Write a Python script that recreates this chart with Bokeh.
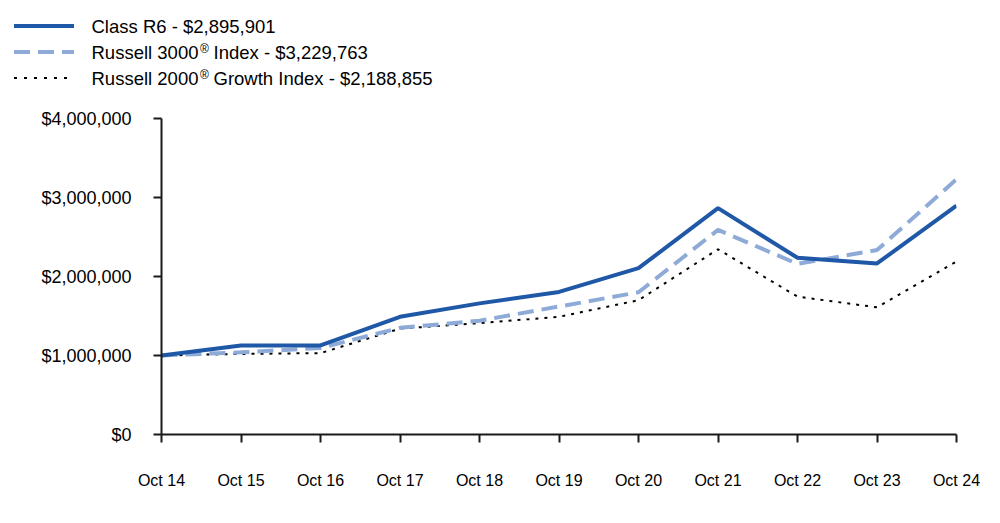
from bokeh.plotting import figure
from bokeh.layouts import column
from bokeh.models import Range1d, FixedTicker, NumeralTickFormatter
from bokeh.core.properties import value
from bokeh.embed import file_html
from bokeh.resources import INLINE

years = ["Oct 14", "Oct 15", "Oct 16", "Oct 17", "Oct 18", "Oct 19",
         "Oct 20", "Oct 21", "Oct 22", "Oct 23", "Oct 24"]
class_r6 = [1000000, 1127000, 1127000, 1490000, 1660000, 1805000,
            2105000, 2865000, 2237000, 2165000, 2895901]
russell_3000 = [1000000, 1040000, 1095000, 1350000, 1440000, 1620000,
                1800000, 2590000, 2160000, 2335000, 3229763]
russell_2000g = [1000000, 1020000, 1030000, 1340000, 1410000, 1490000,
                 1700000, 2345000, 1745000, 1610000, 2188855]
y_ticks = [0, 1000000, 2000000, 3000000, 4000000]

FONT = "Liberation Sans"
C_SOLID = "#1f58a6"
C_DASH = "#8eabd8"
C_DOT = "#000000"

FRAME_L, FRAME_R = 161, 956
TOTAL_W = 990

# ---------- legend figure ----------
LEG_H = 108
leg = figure(width=TOTAL_W, height=LEG_H, x_range=Range1d(0, TOTAL_W),
             y_range=Range1d(LEG_H, 0), output_backend="svg", toolbar_location=None,
             min_border=0)
if "frame_align" in leg.properties():
    leg.frame_align = False
leg.axis.visible = False
leg.grid.visible = False
leg.outline_line_color = None

rows = [25.5, 51.5, 77.5]
lx = [13.5, 73.5]
leg.line(lx, [rows[0], rows[0]], line_color=C_SOLID, line_width=4)
leg.line(lx, [rows[1], rows[1]], line_color=C_DASH, line_width=4, line_dash="16 8")
leg.line(lx, [rows[2], rows[2]], line_color=C_DOT, line_width=2, line_dash="3 7")

fs = "18.5px"
def txt(x, y, s, size=fs, baseline="middle"):
    leg.text(x=[x], y=[y], text=[s], text_font=value(FONT), text_font_size=size,
             text_baseline=baseline, text_align="left", text_color="#000000")

tx = 91
txt(tx, rows[0], "Class R6 - $2,895,901")
txt(tx, rows[1], "Russell 3000")
txt(199.5, rows[1] - 10, "\u00ae", size="12px", baseline="top")
txt(213, rows[1], "Index - $3,229,763")
txt(tx, rows[2], "Russell 2000")
txt(199.5, rows[2] - 10, "\u00ae", size="12px", baseline="top")
txt(213, rows[2], "Growth Index - $2,188,855")

# ---------- main chart ----------
MAIN_H = 410
xs = list(range(len(years)))
p = figure(width=TOTAL_W, height=MAIN_H, x_range=Range1d(0, len(years) - 1),
           y_range=Range1d(0, 4000000), output_backend="svg", toolbar_location=None,
           min_border_left=FRAME_L, min_border_right=TOTAL_W - FRAME_R,
           min_border_top=118 - LEG_H, min_border_bottom=LEG_H + MAIN_H - 434)
if "frame_align" in p.properties():
    p.frame_align = False
p.grid.visible = False
p.outline_line_color = None

p.line(xs, russell_2000g, line_color=C_DOT, line_width=2, line_dash="3 6")
p.line(xs, russell_3000, line_color=C_DASH, line_width=4, line_dash="16 8")
p.line(xs, class_r6, line_color=C_SOLID, line_width=4)

p.xaxis.ticker = FixedTicker(ticks=xs)
p.xaxis.major_label_overrides = {i: years[i] for i in xs}
p.yaxis.ticker = FixedTicker(ticks=y_ticks)
p.yaxis.formatter = NumeralTickFormatter(format="$0,0")

for ax in (p.xaxis[0], p.yaxis[0]):
    ax.axis_line_color = "#1a1a1a"
    ax.axis_line_width = 2
    ax.major_tick_line_color = "#1a1a1a"
    ax.major_tick_line_width = 2
    ax.major_tick_out = 8
    ax.major_tick_in = 0
    ax.minor_tick_line_color = None
    ax.major_label_text_color = "#000000"

p.yaxis.major_label_text_font = FONT
p.yaxis.major_label_text_font_size = "18px"
p.yaxis.major_label_standoff = 22
p.xaxis.major_label_text_font = FONT
p.xaxis.major_label_text_font_size = "16px"
p.xaxis.major_label_standoff = 29

layout = column(leg, p, spacing=0)
open("out.html", "w").write(file_html(layout, INLINE))
